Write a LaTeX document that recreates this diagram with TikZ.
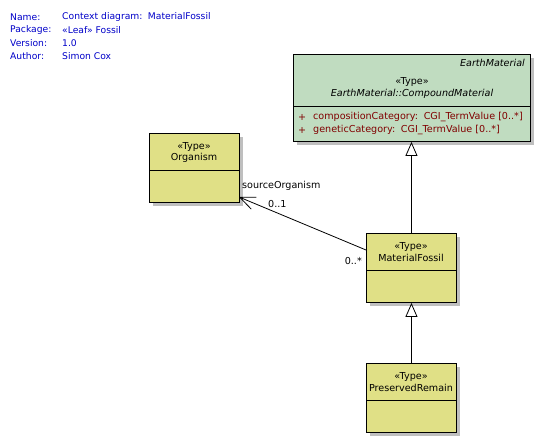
\documentclass[tikz,border=0pt]{standalone}
\usepackage{fontspec}
\setmainfont{DejaVu Sans}
\usetikzlibrary{arrows.meta,shadows}
\definecolor{typefill}{RGB}{224,224,134}
\definecolor{basefill}{RGB}{192,220,192}
\definecolor{infoblue}{RGB}{0,0,200}
\definecolor{attrred}{RGB}{128,0,0}
\tikzset{
  umlbox/.style={draw=black, line width=0.9pt, anchor=north west, inner sep=0pt,
    drop shadow={shadow xshift=4pt, shadow yshift=-4pt, fill=black!25, opacity=1}},
  typebox/.style={umlbox, fill=typefill, minimum width=90pt, minimum height=69pt},
  txt/.style={font=\fontsize{9.6}{11}\selectfont, inner sep=0pt},
  itxt/.style={txt, font=\fontsize{9.6}{11}\selectfont\itshape},
  info/.style={inner sep=0pt, font=\fontsize{9.2}{11}\selectfont, text=infoblue, anchor=west},
  attr/.style={txt, text=attrred, anchor=west},
  inherit/.style={-{Triangle[open, fill=white, length=14pt, width=12pt]}, line width=0.8pt},
  assoc/.style={-{Straight Barb[length=15pt, width=13pt]}, line width=0.8pt}
}
\begin{document}
\begin{tikzpicture}[x=1pt, y=-1pt]
  \useasboundingbox (0,0) rectangle (540,443);
  % diagram notes
  \draw
    (10,17) node[info] (lname){Name:}
    (10,30) node[info] (lpkg){Package:}
    (10,43) node[info] (lver){Version:}
    (10,56) node[info] (laut){Author:}
    (62,17) node[info] (vname){Context diagram:\, MaterialFossil}
    (62,30) node[info] (vpkg){«Leaf» Fossil}
    (62,43) node[info] (vver){1.0}
    (62,56) node[info] (vaut){Simon Cox};
  % classes
  \node[umlbox, fill=basefill, minimum width=237pt, minimum height=87pt] (earth) at (293,54) {};
  \node[typebox] (org) at (149,133) {};
  \node[typebox] (fossil) at (366,233) {};
  \node[typebox] (remain) at (366,363) {};
  \draw[line width=0.8pt] (293,106) -- (530,106);
  \draw[line width=0.8pt] (149,170) -- (239,170);
  \draw[line width=0.8pt] (366,270) -- (456,270);
  \draw[line width=0.8pt] (366,400) -- (456,400);
  \draw
    (525,63) node[itxt, anchor=east] (ename){EarthMaterial}
    (412,82) node[txt] (estereo){«Type»}
    (412,94) node[itxt] (ecompound){EarthMaterial::CompoundMaterial}
    (298,117) node[attr] (eplusa){+}
    (313,117) node[attr] (eattra){compositionCategory:\, CGI\_TermValue [0..*]}
    (298,130) node[attr] (eplusb){+}
    (313,130) node[attr] (eattrb){geneticCategory:\, CGI\_TermValue [0..*]}
    (194,147) node[txt] (ostereo){«Type»}
    (194,158) node[txt] (oname){Organism}
    (411,247) node[txt] (fstereo){«Type»}
    (411,258) node[txt] (fname){MaterialFossil}
    (411,377) node[txt] (rstereo){«Type»}
    (411,388) node[txt] (rname){PreservedRemain};
  % connectors
  \coordinate (orgend) at (239,197);
  \coordinate (fossilend) at (366,250);
  \begin{scope}
    \draw[inherit] (fossil.north) to (earth.south -| fossil.north);
    \draw[inherit] (remain.north) to (fossil.south);
    \draw[assoc] (fossilend) to (orgend);
  \end{scope}
  \draw
    (242,186) node[txt, anchor=west] (role){sourceOrganism}
    (268,204) node[txt, anchor=west] (multorg){0..1}
    (362,261) node[txt, anchor=east] (multfossil){0..*};
\end{tikzpicture}
\end{document}
